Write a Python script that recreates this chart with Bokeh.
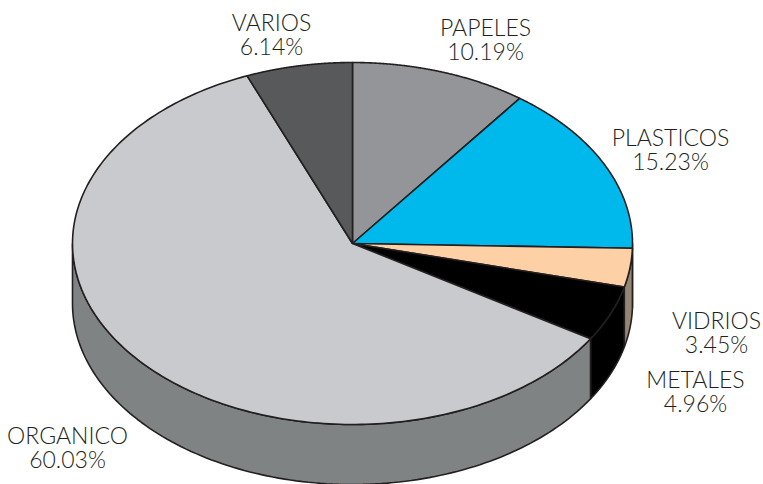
import numpy as np
from bokeh.plotting import figure
from bokeh.embed import file_html
from bokeh.resources import INLINE
from bokeh.core.properties import value

categories = ["PAPELES", "PLASTICOS", "VIDRIOS", "METALES", "ORGANICO", "VARIOS"]
shares = [10.19, 15.23, 3.45, 4.96, 60.03, 6.14]

top_colors = ["#939598", "#00b9ec", "#fdd0a6", "#000000", "#c9cacd", "#58595b"]
side_colors = ["#6f7072", "#948672", "#948672", "#000000", "#808383", "#3c3c3e"]

# layout (page pixels)
CX, CY, RX, RY, DEPTH = 352, 243, 280, 181, 60
label_pos = {
    "PAPELES": (485, 26, 50), "PLASTICOS": (670, 136, 160), "VIDRIOS": (716, 319, 343),
    "METALES": (695, 378, 402), "ORGANICO": (67, 434, 458), "VARIOS": (271, 21, 45),
}
INK = "#231f20"
TXT = "#231f20"

W, H = 763, 484
p = figure(width=W, height=H, x_range=(0, W), y_range=(H, 0),
           output_backend="svg", toolbar_location=None, min_border=0)
p.axis.visible = False
p.grid.visible = False
p.outline_line_color = None
p.background_fill_color = "white"

total = sum(shares)
bounds = np.concatenate([[0], np.cumsum(shares)]) / total * 2 * np.pi


def ex(t):
    return CX + RX * np.sin(t)


def ey(t):
    return CY - RY * np.cos(t)


# side walls (only the front half of the rim shows)
for i in range(len(shares)):
    a, b = max(bounds[i], np.pi / 2), min(bounds[i + 1], 3 * np.pi / 2)
    if b <= a:
        continue
    t = np.linspace(a, b, 120)
    xs = np.concatenate([ex(t), ex(t[::-1])])
    ys = np.concatenate([ey(t), ey(t[::-1]) + DEPTH])
    p.patch(xs, ys, fill_color=side_colors[i], line_color=INK, line_width=1.6)

# top face
for i in range(len(shares)):
    t = np.linspace(bounds[i], bounds[i + 1], 200)
    xs = np.concatenate([[CX], ex(t)])
    ys = np.concatenate([[CY], ey(t)])
    p.patch(xs, ys, fill_color=top_colors[i], line_color=INK, line_width=1.6,
            line_join="round")

# labels
for name, share in zip(categories, shares):
    x, y1, y2 = label_pos[name]
    p.text([x], [y1], text=[name], text_align="center", text_baseline="middle",
           text_font=value("Lato Light"), text_font_size="23px", text_color=TXT)
    p.text([x], [y2], text=[f"{share:.2f}%"], text_align="center", text_baseline="middle",
           text_font=value("Lato Light"), text_font_size="23px", text_color=TXT)

open("out.html", "w").write(file_html(p, INLINE))
